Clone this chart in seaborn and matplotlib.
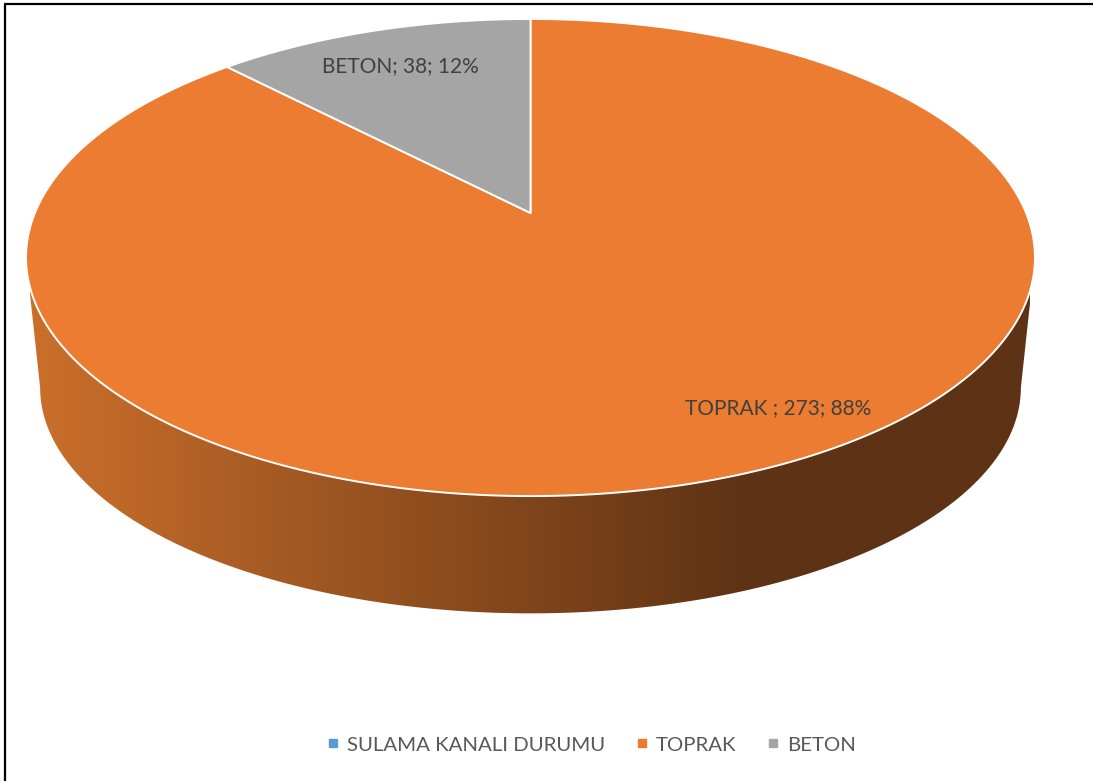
import numpy as np
import matplotlib
matplotlib.use("Agg")
import matplotlib.pyplot as plt
from matplotlib.patches import Polygon
from matplotlib.lines import Line2D
from matplotlib.colors import LinearSegmentedColormap
import seaborn as sns

categories = ["SULAMA KANALI DURUMU", "TOPRAK ", "BETON"]
values = [0, 273, 38]
colors = ["#5B9BD5", "#EB7C31", "#A5A5A5"]
label_positions = {"TOPRAK ": (778, 408), "BETON": (400, 66)}

sns.set_theme(style="white")
plt.rcParams["font.family"] = ["Lato", "DejaVu Sans"]
palette = sns.color_palette(colors)

fig = plt.figure(figsize=(10.93, 7.81), dpi=100)
ax = fig.add_axes([0, 0, 1, 1])
ax.set_xlim(0, 1093)
ax.set_ylim(781, 0)
ax.axis("off")

# perspective projection of the unit-circle pie onto the page
CX, APEX_Y, AX_X, B, C = 530.5, 213.0, 495.6, -190.5, 0.1866
ELL_CY, DEPTH_SHIFT, SX, SY = 257.6, 388.0, 0.972, 0.945


def top(theta):
    x, v = np.sin(theta), np.cos(theta)
    w = 1 + C * v
    return CX + AX_X * x / w, (APEX_Y + B * v) / w


def bottom(theta):
    X, Y = top(theta)
    return CX + (X - CX) * SX, DEPTH_SHIFT + (Y - ELL_CY) * SY


# side wall with horizontal gradient
widest = np.arccos(-C)
th = np.linspace(widest, 2 * np.pi - widest, 500)
xt, yt = top(th)
xb, yb = bottom(th)
wall = np.column_stack([np.r_[xt, xb[::-1]], np.r_[yt, yb[::-1]]])
cmap = LinearSegmentedColormap.from_list(
    "wall", [(0.0, "#5E3214"), (0.28, "#5E3214"), (1.0, "#CB6F2B")])
grad = np.linspace(1, 0, 512).reshape(1, -1)
im = ax.imshow(grad, extent=[30, 1030, 620, 250], cmap=cmap, aspect="auto", zorder=1)
ax.set_xlim(0, 1093)
ax.set_ylim(781, 0)
clip = Polygon(wall, closed=True, transform=ax.transData, fc="none", ec="none")
ax.add_patch(clip)
im.set_clip_path(clip)

# top-face wedges, clockwise from twelve o'clock
total = sum(values)
start = 0.0
for name, val, col in zip(categories, values, palette):
    if val == 0:
        continue
    end = start + 2 * np.pi * val / total
    a = np.linspace(start, end, 400)
    X, Y = top(a)
    pts = np.column_stack([np.r_[CX, X], np.r_[APEX_Y, Y]])
    ax.add_patch(Polygon(pts, closed=True, fc=col, ec="white", lw=1.4, zorder=3,
                         joinstyle="round"))
    lx, ly = label_positions[name]
    ax.text(lx, ly, f"{name}; {val}; {round(100 * val / total)}%", ha="center", va="center",
            fontsize=15, color="#404040", zorder=5)
    start = end

# outer frame
ax.plot([5, 5], [4, 781], color="black", lw=1.6, zorder=6, solid_capstyle="butt")
ax.plot([4, 1093], [4.2, 4.2], color="black", lw=1.6, zorder=6, solid_capstyle="butt")

handles = [Line2D([], [], ls="none", marker="s", ms=5.2, mfc=c, mec=c) for c in palette]
ax.legend(handles, [c.strip() for c in categories], loc="center",
          bbox_to_anchor=(592 / 1093, 1 - 745 / 781), ncol=3, frameon=False, fontsize=14.7,
          labelcolor="#595959", handlelength=0.5, handletextpad=0.45, columnspacing=1.55)

fig.savefig("out.png", dpi=100)
